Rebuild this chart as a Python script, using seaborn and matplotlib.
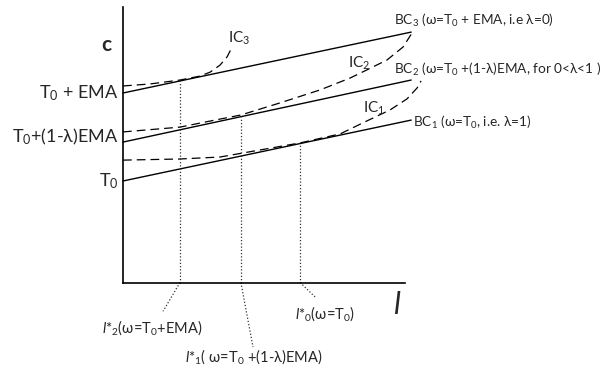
import matplotlib
matplotlib.use("Agg")
import matplotlib.pyplot as plt
import pandas as pd
import seaborn as sns

# budget constraints (start and end of each line)
bc_x = [0.0, 10.22]
bc1_y = [3.60, 5.76]
bc2_y = [4.98, 7.18]
bc3_y = [6.72, 8.88]

# indifference curves
ic1_x = [0.0, 2.02, 3.44, 4.86, 6.28, 7.70, 8.65, 9.47, 10.07, 10.43, 10.57]
ic1_y = [4.34, 4.38, 4.45, 4.70, 4.95, 5.27, 5.73, 6.12, 6.51, 6.90, 7.15]
ic2_x = [0.0, 2.02, 3.26, 4.18, 5.57, 6.99, 8.05, 8.65, 9.36, 9.93, 10.25]
ic2_y = [5.34, 5.51, 5.76, 5.94, 6.37, 6.83, 7.25, 7.54, 7.89, 8.35, 8.85]
ic3_x = [0.0, 0.96, 2.02, 2.73, 3.09, 3.44, 3.69, 3.87]
ic3_y = [6.97, 7.04, 7.18, 7.32, 7.46, 7.71, 8.00, 8.35]

# optimal labour choices l*0, l*1, l*2 (tangency points)
opt_x = [6.28, 4.18, 2.02]
opt_y = [4.93, 5.88, 7.15]
# ends of the dotted leaders below the l axis
lead_x = [6.81, 4.61, 1.42]
lead_y = [-0.51, -2.29, -1.02]

y_ticks = [3.60, 5.16, 6.72]
y_tick_labels = ["T$_0$", "T$_0$+(1-λ)EMA", "T$_0$ + EMA"]

bc_labels = ["BC$_1$ (ω=T$_0$, i.e. λ=1)",
             "BC$_2$ (ω=T$_0$ +(1-λ)EMA, for 0<λ<1 )",
             "BC$_3$ (ω=T$_0$ + EMA, i.e λ=0)"]
ic_labels = ["IC$_1$", "IC$_2$", "IC$_3$"]
opt_labels = [r"$\mathit{l}$*$_{\mathit{0}}$(ω=T$_0$)",
              r"$\mathit{l}$*$_{\mathit{1}}$( ω=T$_0$ +(1-λ)EMA)",
              r"$\mathit{l}$*$_{\mathit{2}}$(ω=T$_0$+EMA)"]

sns.set_style("white")
plt.rcParams["font.family"] = ["Lato", "DejaVu Sans"]
plt.rcParams["mathtext.fontset"] = "custom"
plt.rcParams["mathtext.rm"] = "Lato"
plt.rcParams["mathtext.it"] = "Lato:italic"

fig = plt.figure(figsize=(6.11, 3.69), dpi=100)
ax = fig.add_axes([0, 0, 1, 1])
ax.set_xlim(-4.362, 17.305)
ax.set_ylim(-3.067, 10.018)

for ys in [bc1_y, bc2_y, bc3_y]:
    sns.lineplot(x=bc_x, y=ys, ax=ax, color="black", lw=1.0, sort=False, estimator=None)

for xs, ys in [(ic1_x, ic1_y), (ic2_x, ic2_y), (ic3_x, ic3_y)]:
    sns.lineplot(x=xs, y=ys, ax=ax, color="black", lw=0.9, sort=False, estimator=None,
                 linestyle=(0, (7, 4)))

for i in range(3):
    ax.plot([opt_x[i], opt_x[i]], [0, opt_y[i]], color="#333333", lw=0.9, ls=(0, (1, 1.6)))
    ax.plot([opt_x[i], lead_x[i]], [0, lead_y[i]], color="#333333", lw=0.9, ls=(0, (1, 1.6)))

# axes
ax.spines[["top", "right"]].set_visible(False)
ax.spines["left"].set_position(("data", 0))
ax.spines["bottom"].set_position(("data", 0))
ax.spines["left"].set_bounds(0, 9.77)
ax.spines["bottom"].set_bounds(0, 10.0)
for s in ["left", "bottom"]:
    ax.spines[s].set_linewidth(1.2)
    ax.spines[s].set_color("black")
ax.set_xticks([])
ax.set_yticks([])

for y, lab in zip(y_ticks, y_tick_labels):
    ax.text(-0.15, y, lab, ha="right", va="center", fontsize=13)

ax.text(-0.6, 8.42, "c", ha="center", va="center", fontsize=15, fontweight="bold")
ax.text(9.72, -0.8, r"$\mathit{l}$", ha="center", va="center", fontsize=22)

bc_lab_x = [10.28, 9.61, 9.61]
bc_lab_y = [5.69, 7.54, 9.31]
for x, y, lab in zip(bc_lab_x, bc_lab_y, bc_labels):
    ax.text(x, y, lab, ha="left", va="center", fontsize=9.8)

ic_lab_x = [8.51, 7.98, 3.72]
ic_lab_y = [6.19, 7.78, 8.67]
for x, y, lab in zip(ic_lab_x, ic_lab_y, ic_labels):
    ax.text(x, y, lab, ha="left", va="center", fontsize=11)

opt_lab_x = [6.1, 2.2, -0.74]
opt_lab_y = [-1.12, -2.64, -1.61]
for x, y, lab in zip(opt_lab_x, opt_lab_y, opt_labels):
    ax.text(x, y, lab, ha="left", va="center", fontsize=10.5)

fig.savefig("out.png", dpi=100)
